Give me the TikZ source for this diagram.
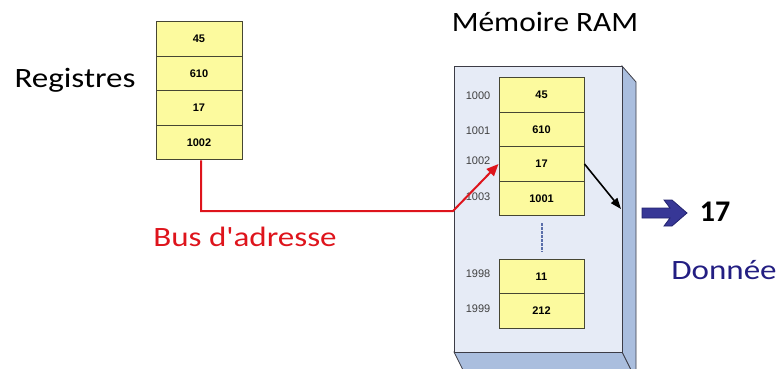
\documentclass[tikz,border=0pt]{standalone}
\usepackage{graphicx}
\usepackage{fontspec}
\setmainfont{Carlito}
\newfontfamily\busfont{Carlito}
\newfontfamily\cellfont{Liberation Sans}
\usetikzlibrary{arrows.meta}
\definecolor{cellfill}{RGB}{252,250,158}
\definecolor{celldraw}{RGB}{70,70,50}
\definecolor{ramfront}{RGB}{230,235,246}
\definecolor{ramside}{RGB}{170,190,222}
\definecolor{ramedge}{RGB}{60,60,70}
\definecolor{busred}{RGB}{222,20,28}
\definecolor{navy}{RGB}{35,30,130}
\definecolor{arrowblue}{RGB}{55,55,150}
\definecolor{arrowedge}{RGB}{35,35,110}
\definecolor{dotblue}{RGB}{90,110,170}
\newcommand{\wide}[1]{\scalebox{1.18}[1]{#1}}
\tikzset{
  cell/.style={draw=celldraw, line width=1pt, fill=cellfill, minimum width=86pt, minimum height=34.5pt, inner sep=0pt, font=\cellfont\bfseries\fontsize{11}{12}\selectfont},
  addr/.style={font=\cellfont\fontsize{11}{12}\selectfont, text=black!75, inner sep=0pt},
  bigtext/.style={font=\fontsize{28}{32}\selectfont, inner sep=0pt}
}
\begin{document}
\begin{tikzpicture}[x=1pt,y=-1pt]
\useasboundingbox (0,0) rectangle (777,369);
% RAM box
\fill[ramside, draw=ramedge, line width=0.8pt] (622,66) -- (636,82) -- (636,380) -- (622,352) -- cycle;
\fill[ramside, draw=ramedge, line width=0.8pt] (454,352) -- (622,352) -- (636,380) -- (468,380) -- cycle;
\node[draw=ramedge, line width=0.8pt, fill=ramfront, minimum width=168pt, minimum height=286pt, inner sep=0pt, anchor=north west] (ram) at (454,66) {};
% registers
\node[cell] (r1) at (199,39) {45};
\node[cell] (r2) at (199,73.5) {610};
\node[cell] (r3) at (199,108) {17};
\node[cell] (r4) at (199,142.5) {1002};
% memory
\node[cell, minimum width=85pt] (m1) at (541.5,95) {45};
\node[cell, minimum width=85pt] (m2) at (541.5,129.5) {610};
\node[cell, minimum width=85pt] (m3) at (541.5,164) {17};
\node[cell, minimum width=85pt] (m4) at (541.5,198.5) {1001};
\node[cell, minimum width=85pt] (m5) at (541.5,276.5) {11};
\node[cell, minimum width=85pt] (m6) at (541.5,311) {212};
\node[addr] (a1) at (478,96) {1000};
\node[addr] (a2) at (478,131) {1001};
\node[addr] (a3) at (478,161) {1002};
\node[addr] (a4) at (478,197) {1003};
\node[addr] (a5) at (478,274) {1998};
\node[addr] (a6) at (478,309) {1999};
\coordinate (dtop) at (542,223);
\coordinate (dbot) at (542,252);
\draw[dotblue, line width=1.8pt, dash pattern=on 2.5pt off 1.5pt] (dtop) -- (dbot);
% labels
\node[bigtext] (reg) at (75,80) {\wide{Registres}};
\node[bigtext] (ramlbl) at (545,22) {\scalebox{1.12}[1]{Mémoire RAM}};
\node[bigtext, text=busred] (bus) at (245,237) {\busfont\wide{Bus d'adresse}};
\node[bigtext, text=navy] (don) at (724,270) {\wide{Donnée}};
\node[font=\fontsize{30}{32}\selectfont\bfseries, inner sep=0pt] (v17) at (715,212) {17};
% connectors
\coordinate (bend) at (453,211);
\draw[busred, line width=2pt, -{Triangle[length=12pt,width=10pt]}] ([xshift=2pt]r4.south) |- (bend) -- (m3.west);
\coordinate (edge) at (621,209);
\draw[black, line width=1.6pt, -{Triangle[length=11pt,width=8pt]}] (m3.east) -- (edge);
\fill[arrowblue, draw=arrowedge, line width=0.8pt] (642,208) -- (670,208) -- (664,200) -- (672,200) -- (687,213) -- (672,226) -- (664,226) -- (670,218) -- (642,218) -- cycle;
\end{tikzpicture}
\end{document}
